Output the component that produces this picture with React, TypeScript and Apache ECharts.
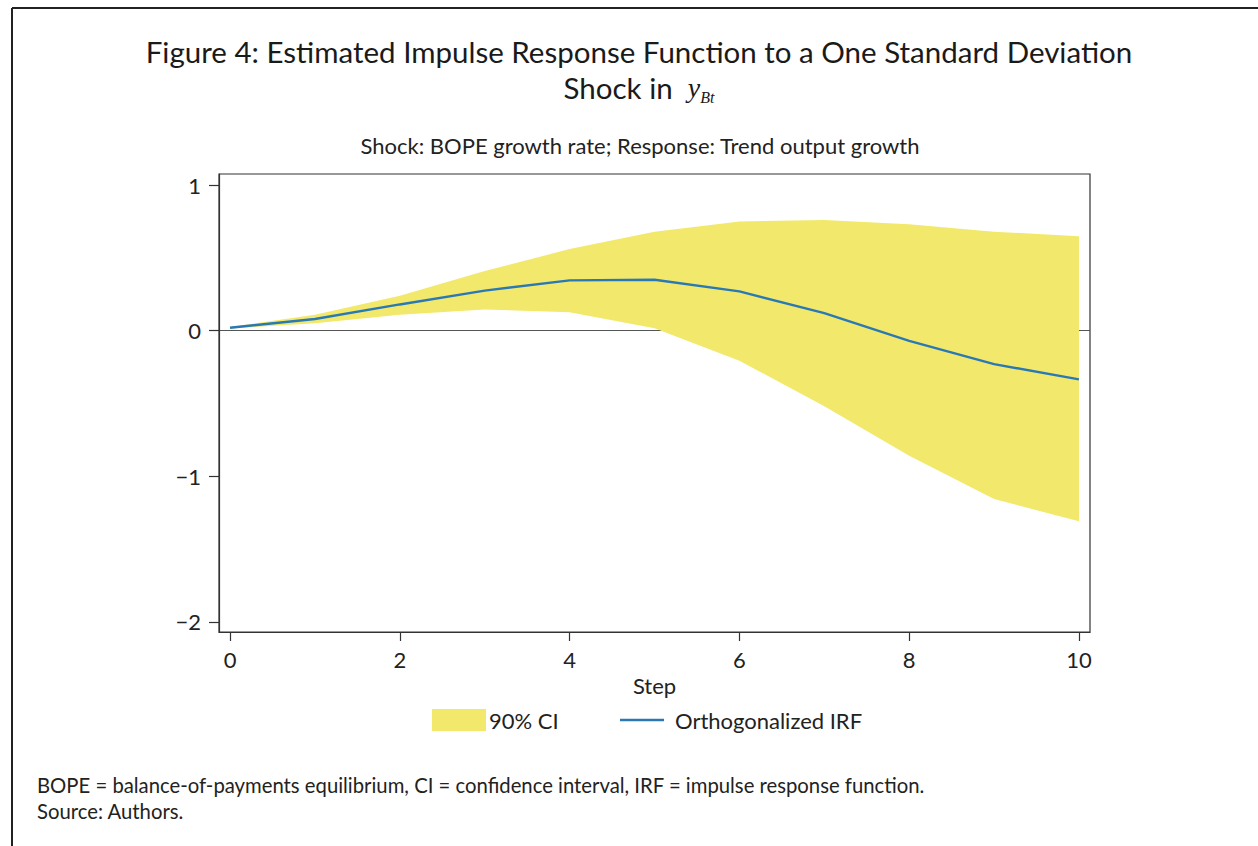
import React, { useEffect, useRef } from "react";
import * as echarts from "echarts";

const steps = [0, 1, 2, 3, 4, 5, 6, 7, 8, 9, 10];
const irf = [0.02, 0.08, 0.18, 0.275, 0.345, 0.35, 0.27, 0.12, -0.07, -0.23, -0.335];
const ciUpper = [0.025, 0.11, 0.24, 0.41, 0.56, 0.68, 0.75, 0.76, 0.73, 0.68, 0.648];
const ciLower = [0.015, 0.05, 0.11, 0.145, 0.126, 0.016, -0.206, -0.52, -0.86, -1.157, -1.31];
const xTicks = [0, 2, 4, 6, 8, 10];
const yTicks = [-2, -1, 0, 1];

const FONT = "Lato, 'Open Sans', sans-serif";
const YELLOW = "#f2e96c";
const BLUE = "#2a78b4";

export default function App() {
  const ref = useRef<HTMLDivElement>(null);
  useEffect(() => {
    if (!ref.current) return;
    const chart = echarts.init(ref.current, undefined, { renderer: "svg" });
    const bandData = steps.map((s, i) => [s, ciLower[i], ciUpper[i]]);
    const irfData = steps.map((s, i) => [s, irf[i]]);
    chart.setOption({
      animation: false,
      backgroundColor: "#ffffff",
      textStyle: { fontFamily: FONT, color: "#222" },
      title: [
        {
          text:
            "Figure 4: Estimated Impulse Response Function to a One Standard Deviation\nShock in  {y|y}{sub|Bt}",
          left: 634,
          top: 28,
          textAlign: "center",
          textStyle: {
            fontFamily: FONT,
            fontSize: 29.5,
            fontWeight: "normal",
            color: "#1a1a1a",
            lineHeight: 36,
            rich: {
              y: {
                fontFamily: "'Liberation Serif', 'DejaVu Serif', serif",
                fontStyle: "italic",
                fontSize: 28,
                color: "#1a1a1a",
                lineHeight: 36,
              },
              sub: {
                fontFamily: "'Liberation Serif', 'DejaVu Serif', serif",
                fontStyle: "italic",
                fontSize: 16,
                color: "#1a1a1a",
                verticalAlign: "bottom",
                lineHeight: 30,
              },
            },
          },
        },
        {
          text: "Shock: BOPE growth rate; Response: Trend output growth",
          left: 635,
          top: 129,
          textAlign: "center",
          textStyle: { fontFamily: FONT, fontSize: 22, fontWeight: "normal", color: "#222" },
        },
      ],
      legend: [
        {
          left: 432,
          top: 709,
          padding: 0,
          itemWidth: 54,
          itemHeight: 22,
          itemGap: 0,
          textStyle: { fontFamily: FONT, fontSize: 22, color: "#222", padding: [0, 0, 0, -2] },
          data: [{ name: "90% CI", icon: "rect" }],
        },
        {
          left: 620,
          top: 709,
          padding: 0,
          itemWidth: 44,
          itemHeight: 22,
          itemGap: 0,
          textStyle: { fontFamily: FONT, fontSize: 22, color: "#222", padding: [0, 0, 0, 6] },
          data: [{ name: "Orthogonalized IRF", icon: "path://M0,0 L44,0 L44,2.4 L0,2.4 Z" }],
        },
      ],
      grid: {
        left: 219,
        right: 168,
        top: 174,
        bottom: 214,
        show: true,
        borderColor: "#333",
        borderWidth: 1.2,
        backgroundColor: "transparent",
      },
      xAxis: {
        type: "value",
        min: -0.13,
        max: 10.13,
        name: "Step",
        nameLocation: "middle",
        nameGap: 38,
        nameTextStyle: { fontFamily: FONT, fontSize: 22, color: "#222" },
        axisLine: { show: true, onZero: false, lineStyle: { color: "#333", width: 1.2 } },
        axisTick: { show: true, inside: false, length: 9, customValues: xTicks, lineStyle: { color: "#333", width: 1.2 } },
        axisLabel: { customValues: xTicks, fontFamily: FONT, fontSize: 22, color: "#222", margin: 16 },
        splitLine: { show: false },
      },
      yAxis: {
        type: "value",
        min: -2.07,
        max: 1.076,
        axisLine: { show: true, onZero: false, lineStyle: { color: "#333", width: 1.2 } },
        axisTick: { show: true, inside: false, length: 10, customValues: yTicks, lineStyle: { color: "#333", width: 1.2 } },
        axisLabel: {
          customValues: yTicks,
          fontFamily: FONT,
          fontSize: 22,
          color: "#222",
          margin: 18,
          formatter: (v: number) => (v < 0 ? "\u2212" + Math.abs(v) : String(v)),
        },
        splitLine: { show: false },
      },
      series: [
        {
          name: "zero",
          type: "line",
          data: [],
          silent: true,
          z: 0,
          markLine: {
            silent: true,
            z: 0,
            symbol: "none",
            label: { show: false },
            lineStyle: { color: "#555", width: 1.2, type: "solid" },
            data: [{ yAxis: 0 }],
          },
        },
        {
          name: "90% CI",
          type: "custom",
          data: bandData,
          silent: true,
          z: 1,
          itemStyle: { color: YELLOW },
          encode: { x: 0, y: [1, 2] },
          renderItem: (params: any, api: any) => {
            if (params.dataIndex !== 0) return null;
            const upperPts = bandData.map((d) => api.coord([d[0], d[2]]));
            const lowerPts = bandData.map((d) => api.coord([d[0], d[1]])).reverse();
            return {
              type: "polygon",
              shape: { points: upperPts.concat(lowerPts) },
              style: { fill: YELLOW, stroke: "none" },
            };
          },
        },
        {
          name: "Orthogonalized IRF",
          type: "line",
          data: irfData,
          symbol: "none",
          showSymbol: false,
          lineStyle: { color: BLUE, width: 2.4 },
          itemStyle: { color: BLUE },
          z: 4,
        },
      ],
      graphic: [
        {
          type: "line",
          shape: { x1: 12, y1: 8, x2: 1258, y2: 8 },
          style: { stroke: "#222", lineWidth: 2 },
        },
        {
          type: "line",
          shape: { x1: 12, y1: 8, x2: 12, y2: 846 },
          style: { stroke: "#222", lineWidth: 2 },
        },
        {
          type: "text",
          left: 37,
          top: 775,
          style: {
            text: "BOPE = balance-of-payments equilibrium, CI = confidence interval, IRF = impulse response function.",
            font: `20.3px ${FONT}`,
            fill: "#222",
          },
        },
        {
          type: "text",
          left: 37,
          top: 801,
          style: { text: "Source: Authors.", font: `20.3px ${FONT}`, fill: "#222" },
        },
      ],
    });
    return () => chart.dispose();
  }, []);
  return <div ref={ref} style={{ position: "fixed", left: 0, top: 0, width: 1258, height: 846 }} />;
}
